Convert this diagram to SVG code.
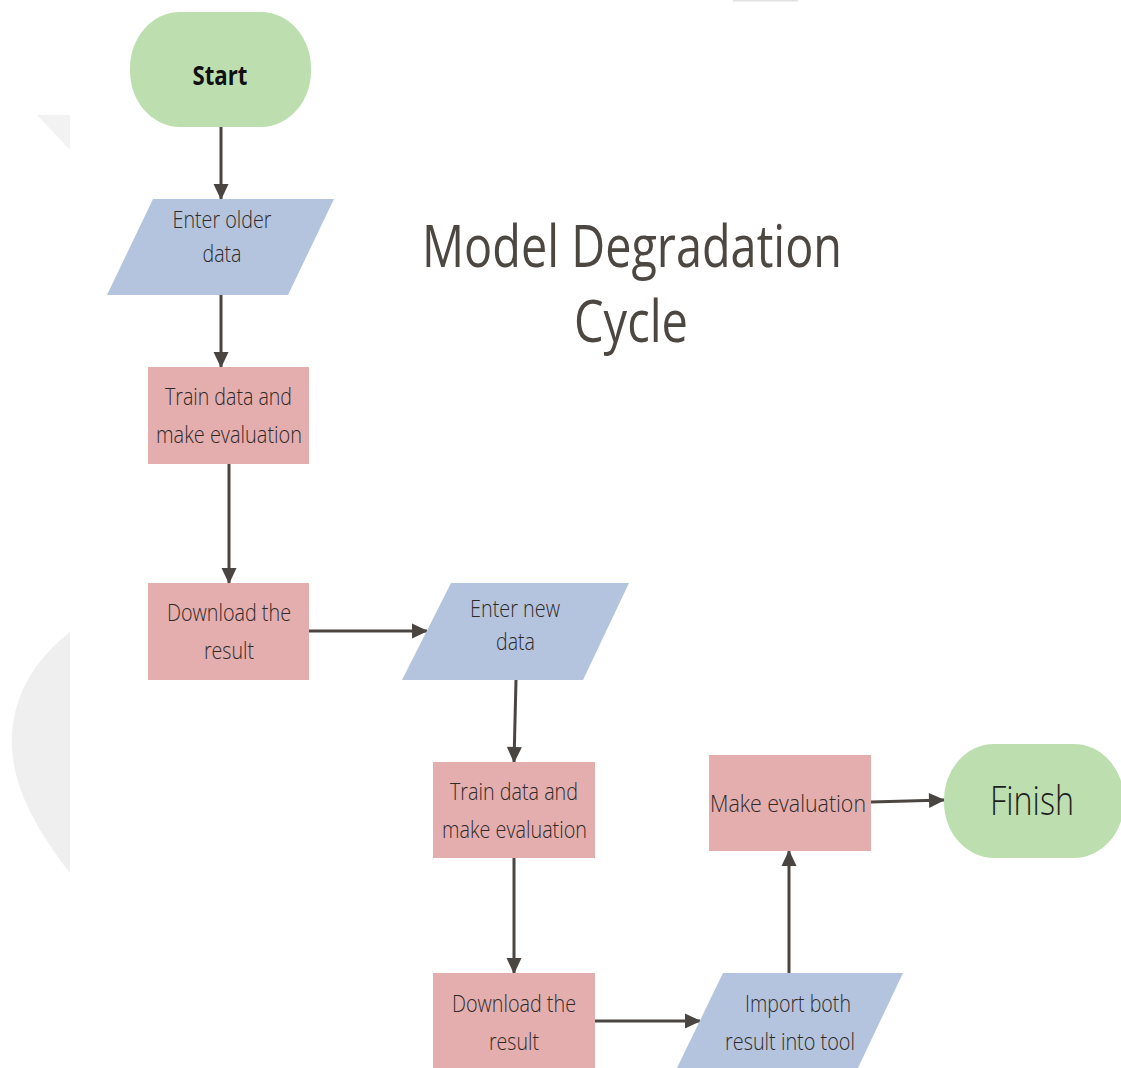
<svg xmlns="http://www.w3.org/2000/svg" width="1121" height="1068" viewBox="0 0 1121 1068">
<style>
.bg{fill:#efefef}
.term{fill:#bddfb0}
.io{fill:#b4c4de}
.proc{fill:#e4aeae}
.t{font-family:"Open Sans","Liberation Sans",sans-serif;font-size:24px;font-weight:300;fill:#2f2a28;text-anchor:middle}
.title{font-family:"Open Sans","Liberation Sans",sans-serif;font-size:59px;fill:#4d4742;text-anchor:middle;font-variant-ligatures:none}
.edge{stroke:#4a4541;stroke-width:3;fill:none;marker-end:url(#ah)}
</style>
<defs>
<marker id="ah" markerUnits="userSpaceOnUse" markerWidth="18" markerHeight="18" viewBox="0 0 18 18" refX="16" refY="9" orient="auto">
<path d="M1,1.5 L17,9 L1,16.5 Z" fill="#4a4541"/>
</marker>
</defs>
<rect width="1121" height="1068" fill="#ffffff"/>
<g id="background">
<polygon class="bg" points="37,115 70,115 70,150" fill-opacity="0.8"/>
<path class="bg" d="M70,632 C28,665 10,705 12,748 C14,790 38,832 70,873 Z"/>
<rect x="733" y="0" width="65" height="1.5" fill="#e2e2e2"/>
</g>
<g id="title">
<text class="title" x="632" y="267" textLength="420" lengthAdjust="spacingAndGlyphs">Model Degradation</text>
<text class="title" x="631" y="342" textLength="114" lengthAdjust="spacingAndGlyphs">Cycle</text>
</g>
<g id="connectors">
<line class="edge" x1="221" y1="127" x2="221" y2="199"/>
<line class="edge" x1="221" y1="295" x2="221" y2="367"/>
<line class="edge" x1="229" y1="464" x2="229" y2="583"/>
<line class="edge" x1="309" y1="631" x2="427" y2="631"/>
<line class="edge" x1="516" y1="680" x2="514" y2="762"/>
<line class="edge" x1="514" y1="858" x2="514" y2="973"/>
<line class="edge" x1="595" y1="1021" x2="700" y2="1021"/>
<line class="edge" x1="789" y1="973" x2="789" y2="851"/>
<line class="edge" x1="871" y1="802" x2="944" y2="800"/>
</g>
<g id="start">
<rect class="term" x="130" y="12" width="181" height="115" rx="50" ry="56"/>
<text class="t" x="220" y="85" style="font-weight:700;font-size:27px;fill:#111" textLength="55" lengthAdjust="spacingAndGlyphs">Start</text>
</g>
<g id="enter-older">
<polygon class="io" points="153,199 334,199 288,295 107,295"/>
<text class="t" x="222" y="228" textLength="99" lengthAdjust="spacingAndGlyphs">Enter older</text>
<text class="t" x="222" y="262" textLength="39" lengthAdjust="spacingAndGlyphs">data</text>
</g>
<g id="train1">
<rect class="proc" x="148" y="367" width="161" height="97"/>
<text class="t" x="228.5" y="405" textLength="127" lengthAdjust="spacingAndGlyphs">Train data and</text>
<text class="t" x="229" y="443" textLength="146" lengthAdjust="spacingAndGlyphs">make evaluation</text>
</g>
<g id="download1">
<rect class="proc" x="148" y="583" width="161" height="97"/>
<text class="t" x="229" y="621" textLength="124" lengthAdjust="spacingAndGlyphs">Download the</text>
<text class="t" x="229" y="659" textLength="50" lengthAdjust="spacingAndGlyphs">result</text>
</g>
<g id="enter-new">
<polygon class="io" points="451,583 629,583 583,680 402,680"/>
<text class="t" x="515" y="617" textLength="90" lengthAdjust="spacingAndGlyphs">Enter new</text>
<text class="t" x="515.5" y="650" textLength="39" lengthAdjust="spacingAndGlyphs">data</text>
</g>
<g id="train2">
<rect class="proc" x="433" y="762" width="162" height="96"/>
<text class="t" x="514" y="800" textLength="128" lengthAdjust="spacingAndGlyphs">Train data and</text>
<text class="t" x="514.5" y="838" textLength="145" lengthAdjust="spacingAndGlyphs">make evaluation</text>
</g>
<g id="download2">
<rect class="proc" x="433" y="973" width="162" height="97"/>
<text class="t" x="514" y="1012" textLength="124" lengthAdjust="spacingAndGlyphs">Download the</text>
<text class="t" x="514" y="1050" textLength="50" lengthAdjust="spacingAndGlyphs">result</text>
</g>
<g id="import">
<polygon class="io" points="723,973 903,973 857,1070 676,1070"/>
<text class="t" x="798" y="1012" textLength="106" lengthAdjust="spacingAndGlyphs">Import both</text>
<text class="t" x="790" y="1050" textLength="130" lengthAdjust="spacingAndGlyphs">result into tool</text>
</g>
<g id="make-eval">
<rect class="proc" x="709" y="755" width="162" height="96"/>
<text class="t" x="788" y="812" textLength="156" lengthAdjust="spacingAndGlyphs">Make evaluation</text>
</g>
<g id="finish">
<rect class="term" x="944" y="744" width="180" height="114" rx="50" ry="56"/>
<text class="t" x="1032" y="815" style="font-size:40px;fill:#1e1e1e" textLength="84" lengthAdjust="spacingAndGlyphs">Finish</text>
</g>
</svg>
